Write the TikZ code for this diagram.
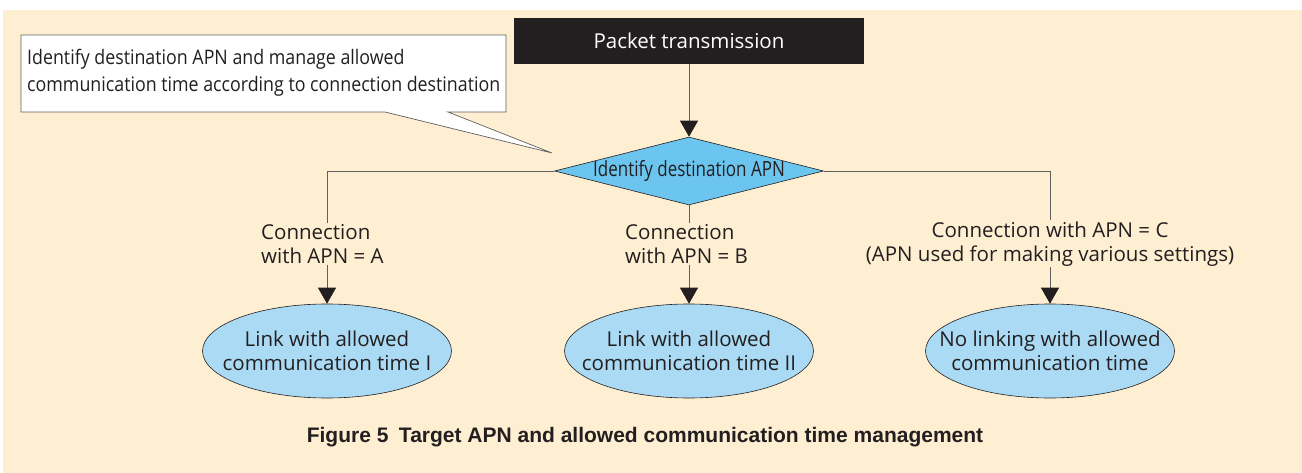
\documentclass[tikz,border=0pt]{standalone}
\usepackage{fontspec}
\setmainfont{Open Sans}
\newfontfamily\condfont[FakeStretch=0.89]{Open Sans}
\newfontfamily\diafont[FakeStretch=0.81]{Open Sans}
\newfontfamily\capfont{Liberation Sans}
\usetikzlibrary{shapes.geometric,arrows.meta}
\definecolor{bg}{RGB}{255,239,210}
\definecolor{ink}{RGB}{35,31,32}
\definecolor{dia}{RGB}{108,197,238}
\definecolor{ell}{RGB}{170,218,244}
\definecolor{ln}{RGB}{95,95,95}
\tikzset{
  arr/.style={draw=ln, line width=0.8pt, -{Triangle[width=18pt,length=16pt,fill=ink,color=ink]}},
  oval/.style={ellipse, draw=ink, line width=0.6pt, fill=ell, minimum width=249pt, minimum height=94pt, inner sep=0pt},
  ovaltext/.style={align=center, inner sep=0pt, text=ink, font=\fontsize{20.5}{24.5}\selectfont},
  lab/.style={fill=bg, inner sep=1pt, text=ink, font=\fontsize{20.5}{24.5}\selectfont}
}
\begin{document}
\begin{tikzpicture}[x=1pt,y=-1pt]
\useasboundingbox (0,0) rectangle (1302,473);
\fill[white] (0,0) rectangle (1302,473);
\fill[bg] (3,10) rectangle (1302,473);

% callout
\draw[fill=white, draw=ln, line width=0.7pt] (21,35) -- (506,35) -- (506,112) -- (448,112) -- (552,153) -- (385,112) -- (21,112) -- cycle;
\node[anchor=west, align=left, inner sep=0pt, text=ink, font=\condfont\fontsize{20}{27}\selectfont] (callout) at (27,73)
  {Identify destination APN and manage allowed\\communication time according to connection destination};

% top box
\node[fill=ink, text=white, minimum width=350pt, minimum height=46pt, inner sep=0pt, font=\fontsize{20.5}{24}\selectfont] (pkt) at (689,41) {Packet transmission};

% diamond
\node[diamond, aspect=3.96, draw=ink, line width=0.6pt, fill=dia, minimum width=269pt, minimum height=68pt, inner sep=0pt] (dec) at (689,171) {};
\node[inner sep=0pt, text=ink, font=\diafont\fontsize{21}{24}\selectfont] (dect) at (dec) {Identify destination APN};

% ellipses
\node[oval] (ea) at (327,351) {};
\node[oval] (eb) at (689,351) {};
\node[oval] (ec) at (1050,351) {};
\node[ovaltext] (ta) at (ea) {Link with allowed\\communication time I};
\node[ovaltext] (tb) at (eb) {Link with allowed\\communication time II};
\node[ovaltext] (tc) at (ec) {No linking with allowed\\communication time};

% connectors
\draw[arr] (pkt) -- (dec);
\draw[arr] (dec.west) -| (ea);
\draw[arr] (dec) -- (eb);
\draw[arr] (dec.east) -| (ec);

% labels
\node[lab, anchor=west, align=left] (la) at (260,244) {Connection\\with APN = A};
\node[lab, anchor=west, align=left] (lb) at (624,244) {Connection\\with APN = B};
\node[lab, align=center] (lc) at (1050,244) {Connection with APN = C\\(APN used for making various settings)};

% caption
\node[text=ink, font=\capfont\bfseries\fontsize{21}{24}\selectfont] (cap) at (645,437) {Figure 5\hspace{0.5em}Target APN and allowed communication time management};
\end{tikzpicture}
\end{document}
